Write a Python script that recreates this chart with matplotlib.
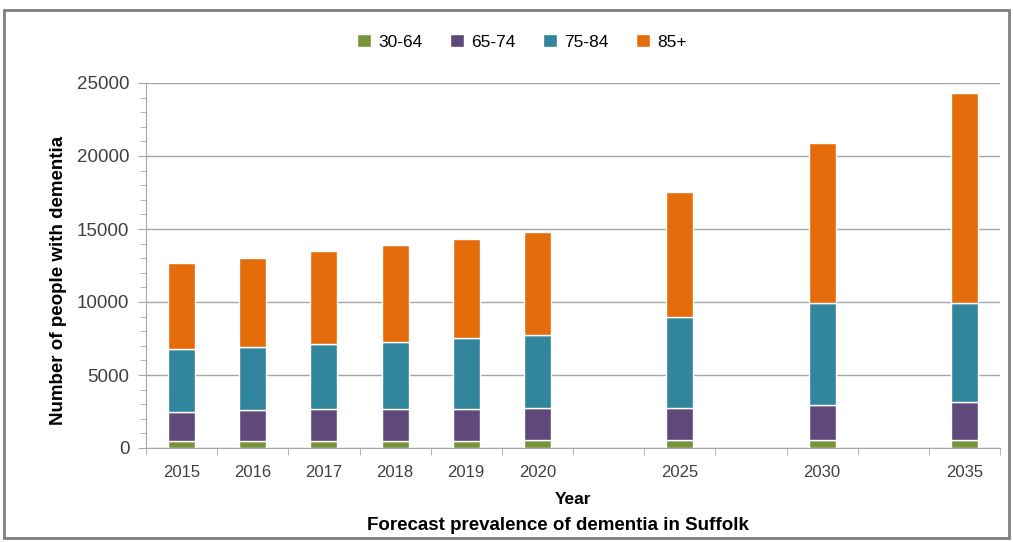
import matplotlib
matplotlib.use("Agg")
import matplotlib.pyplot as plt
from matplotlib.patches import Rectangle
import numpy as np

years = ['2015', '2016', '2017', '2018', '2019', '2020', '2025', '2030', '2035']
age_groups = ['30-64', '65-74', '75-84', '85+']
v_30_64 = [500, 500, 500, 500, 500, 560, 540, 540, 540]
v_65_74 = [1990, 2100, 2150, 2170, 2170, 2200, 2180, 2400, 2630]
v_75_84 = [4270, 4300, 4470, 4610, 4840, 4980, 6270, 6970, 6740]
v_85p = [5930, 6110, 6370, 6620, 6780, 7030, 8570, 10960, 14430]

# layout: category slots on the axis (empty slots between the later years)
slots = [0, 1, 2, 3, 4, 5, 7, 9, 11]
n_slots = 12

colors = ['#77933C', '#5F497A', '#31859C', '#E46C0A']
font = ['Liberation Sans Narrow', 'Liberation Sans', 'DejaVu Sans']
plt.rcParams['font.family'] = font

fig = plt.figure(figsize=(10.13, 5.42), dpi=100)
ax = fig.add_axes([146/1013, 1-448/542, (1000-146)/1013, (448-83)/542])

bottom = np.zeros(len(years))
for name, vals, c in zip(age_groups, [v_30_64, v_65_74, v_75_84, v_85p], colors):
    ax.bar(slots, vals, width=0.38, bottom=bottom, color=c, edgecolor='white',
           linewidth=1.0, label=name, zorder=3)
    bottom += np.array(vals)

ax.set_xlim(-0.5, n_slots - 0.5)
ax.set_ylim(0, 25000)
ax.set_yticks(np.arange(0, 25001, 5000))
ax.set_yticks(np.arange(0, 25001, 1000), minor=True)
ax.yaxis.grid(True, which='major', color='#a6a6a6', linewidth=1.0, zorder=0)

ax.set_xticks(slots)
ax.set_xticklabels(years)
ax.set_xticks(np.arange(-0.5, n_slots, 1.0), minor=True)
ax.tick_params(axis='x', which='major', length=0, pad=12, labelsize=12, labelcolor='#404040')
ax.tick_params(axis='x', which='minor', length=5, color='#a6a6a6', direction='out')
ax.tick_params(axis='y', which='major', length=6, color='#a6a6a6', labelsize=13.5,
               labelcolor='#404040', pad=6)
ax.tick_params(axis='y', which='minor', length=4, color='#a6a6a6')

for s in ['top', 'right']:
    ax.spines[s].set_visible(False)
for s in ['left', 'bottom']:
    ax.spines[s].set_color('#a6a6a6')

ax.set_ylabel('Number of people with dementia', fontsize=13.5, fontweight='bold',
              color='black')
ax.yaxis.set_label_coords(-0.093, 0.46)
fig.text(573/1013, 1-500/542, 'Year', ha='center', va='center', fontsize=12.5, fontweight='bold')
fig.text(558/1013, 1-525/542, 'Forecast prevalence of dementia in Suffolk', ha='center',
         va='center', fontsize=13.5, fontweight='bold')

leg = fig.legend(loc='center', bbox_to_anchor=(522/1013, 1-42/542), ncol=4, frameon=False,
                 handlelength=0.8, handleheight=0.8, handletextpad=0.4, columnspacing=1.6,
                 fontsize=12.5)

fig.patches.append(Rectangle((4/1013, 1-538/542), 1005/1013, 528/542, transform=fig.transFigure,
                             fill=False, edgecolor='#7f7f7f', linewidth=2))

fig.savefig('out.png', dpi=100)
